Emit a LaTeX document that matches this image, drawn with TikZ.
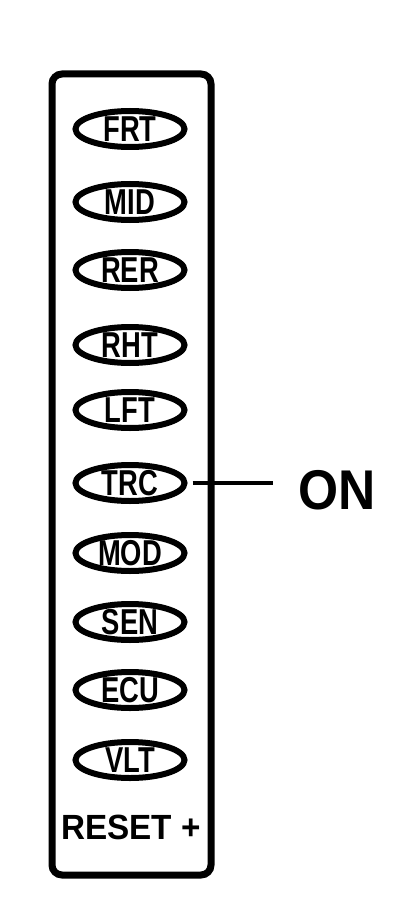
\documentclass[tikz,border=0pt]{standalone}
\usepackage{fontspec}
\usepackage{graphicx}
\setmainfont{Liberation Sans}
\usetikzlibrary{shapes.geometric}
\tikzset{
  panel/.style={draw, line width=7pt, rounded corners=10pt},
  btn/.style={draw, ellipse, line width=6pt, minimum width=109pt, minimum height=36pt, inner sep=0pt},
  lbl/.style={font=\fontsize{36}{36}\selectfont\bfseries},
  lead/.style={line width=4pt},
}
\newcommand{\btntext}[1]{\scalebox{0.76}[1]{#1}}
\begin{document}
\begin{tikzpicture}[x=1pt,y=-1pt]
\useasboundingbox (0,0) rectangle (410,920);
\draw[panel] (52,74) rectangle (211,875);
\foreach \n/\t/\y in {frt/FRT/129, mid/MID/202, rer/RER/270, rht/RHT/345, lft/LFT/410, trc/TRC/483, mod/MOD/553, sen/SEN/622, ecu/ECU/690, vlt/VLT/760}{
  \node[btn] (\n) at (130,\y) {};
  \node[lbl] (\n t) at (130,\y) {\btntext{\t}};
}
\node[font=\fontsize{35}{35}\selectfont\bfseries] (reset) at (131,827) {\scalebox{0.95}[1]{RESET +}};
\coordinate (lineend) at (273,483);
\draw[lead] ([xshift=5pt]trc.east) -- (lineend);
\node[font=\fontsize{56}{56}\selectfont\bfseries, anchor=west] (on) at (295,490) {\scalebox{0.92}[1]{ON}};
\end{tikzpicture}
\end{document}
